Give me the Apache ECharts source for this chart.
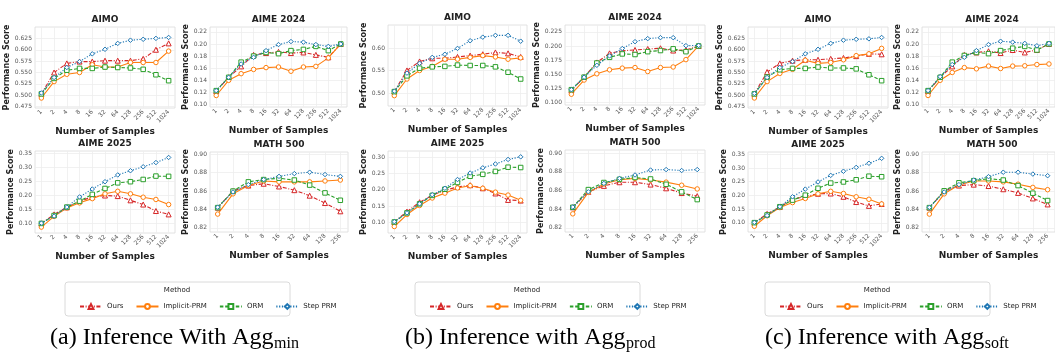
<!DOCTYPE html>
<html>
<head>
<meta charset="utf-8">
<script src="https://cdn.jsdelivr.net/npm/echarts@6/dist/echarts.min.js"></script>
<style>
html, body { margin: 0; padding: 0; background: #fff; }
#chart { width: 1055px; height: 354px; }
</style>
</head>
<body>
<div id="chart"></div>
<script>
var samples = ['1', '2', '4', '8', '16', '32', '64', '128', '256', '512', '1024'];
var samplesMath = ['1', '2', '4', '8', '16', '32', '64', '128', '256'];
var methods = ['Ours', 'Implicit-PRM', 'ORM', 'Step PRM'];

// y tick labels
var ticksAimo = [0.475, 0.5, 0.525, 0.55, 0.575, 0.6, 0.625];
var ticksAimoB = [0.5, 0.55, 0.6];
var ticks24 = [0.10, 0.12, 0.14, 0.16, 0.18, 0.20, 0.22];
var ticks24B = [0.100, 0.125, 0.150, 0.175, 0.200, 0.225];
var ticks25 = [0.10, 0.15, 0.20, 0.25, 0.30, 0.35];
var ticks25B = [0.10, 0.15, 0.20, 0.25, 0.30];
var ticksMath = [0.82, 0.84, 0.86, 0.88, 0.90];

// (a) Agg min
var aAimoOurs = [0.503, 0.550, 0.570, 0.574, 0.574, 0.576, 0.576, 0.576, 0.580, 0.600, 0.614];
var aAimoImpl = [0.494, 0.530, 0.546, 0.550, 0.567, 0.562, 0.562, 0.572, 0.572, 0.572, 0.597];
var aAimoOrm  = [0.503, 0.537, 0.555, 0.559, 0.559, 0.562, 0.561, 0.560, 0.557, 0.545, 0.532];
var aAimoStep = [0.505, 0.539, 0.561, 0.574, 0.591, 0.601, 0.614, 0.621, 0.623, 0.625, 0.627];
var a24Ours = [0.122, 0.145, 0.163, 0.182, 0.185, 0.187, 0.185, 0.186, 0.182, 0.178, 0.200];
var a24Impl = [0.115, 0.140, 0.151, 0.158, 0.161, 0.162, 0.155, 0.162, 0.163, 0.177, 0.200];
var a24Orm  = [0.123, 0.145, 0.170, 0.180, 0.186, 0.184, 0.189, 0.191, 0.196, 0.189, 0.200];
var a24Step = [0.123, 0.145, 0.167, 0.178, 0.189, 0.199, 0.204, 0.203, 0.199, 0.196, 0.200];
var a25Ours = [0.101, 0.133, 0.158, 0.180, 0.195, 0.200, 0.198, 0.183, 0.168, 0.145, 0.133];
var a25Impl = [0.088, 0.126, 0.156, 0.174, 0.189, 0.206, 0.215, 0.206, 0.194, 0.186, 0.168];
var a25Orm  = [0.101, 0.129, 0.159, 0.180, 0.204, 0.225, 0.245, 0.249, 0.257, 0.269, 0.268];
var a25Step = [0.102, 0.127, 0.159, 0.195, 0.223, 0.249, 0.273, 0.288, 0.302, 0.317, 0.335];
var aMathOurs = [0.842, 0.860, 0.866, 0.868, 0.865, 0.861, 0.855, 0.847, 0.838];
var aMathImpl = [0.835, 0.857, 0.866, 0.871, 0.870, 0.870, 0.870, 0.871, 0.872];
var aMathOrm  = [0.842, 0.860, 0.870, 0.8725, 0.874, 0.872, 0.8665, 0.858, 0.850];
var aMathStep = [0.8425, 0.859, 0.867, 0.8725, 0.876, 0.879, 0.8805, 0.878, 0.876];

// (b) Agg prod
var bAimoOurs = [0.503, 0.550, 0.570, 0.577, 0.577, 0.580, 0.583, 0.586, 0.590, 0.588, 0.580];
var bAimoImpl = [0.494, 0.531, 0.550, 0.559, 0.575, 0.575, 0.579, 0.583, 0.580, 0.575, 0.578];
var bAimoOrm  = [0.503, 0.538, 0.555, 0.558, 0.559, 0.562, 0.561, 0.561, 0.558, 0.546, 0.531];
var bAimoStep = [0.504, 0.544, 0.566, 0.579, 0.586, 0.599, 0.616, 0.624, 0.628, 0.628, 0.615];
var b24Ours = [0.122, 0.145, 0.171, 0.187, 0.1915, 0.193, 0.1947, 0.196, 0.192, 0.193, 0.200];
var b24Impl = [0.115, 0.140, 0.151, 0.158, 0.161, 0.162, 0.155, 0.162, 0.163, 0.176, 0.200];
var b24Orm  = [0.123, 0.145, 0.170, 0.180, 0.186, 0.185, 0.190, 0.192, 0.195, 0.190, 0.200];
var b24Step = [0.123, 0.145, 0.166, 0.1825, 0.1955, 0.2076, 0.213, 0.2147, 0.2147, 0.2006, 0.201];
var b25Ours = [0.101, 0.133, 0.162, 0.183, 0.199, 0.209, 0.2145, 0.205, 0.189, 0.169, 0.167];
var b25Impl = [0.087, 0.124, 0.152, 0.175, 0.190, 0.206, 0.213, 0.205, 0.193, 0.184, 0.168];
var b25Orm  = [0.101, 0.129, 0.157, 0.183, 0.202, 0.223, 0.242, 0.248, 0.257, 0.270, 0.269];
var b25Step = [0.102, 0.129, 0.157, 0.185, 0.205, 0.232, 0.252, 0.268, 0.280, 0.294, 0.302];
var bMathOurs = [0.842, 0.8586, 0.865, 0.8689, 0.8689, 0.8664, 0.8624, 0.8573, 0.854];
var bMathImpl = [0.835, 0.858, 0.867, 0.8715, 0.873, 0.8713, 0.869, 0.8657, 0.8617];
var bMathOrm  = [0.842, 0.861, 0.8686, 0.872, 0.874, 0.8724, 0.8667, 0.8586, 0.8503];
var bMathStep = [0.8423, 0.8586, 0.8676, 0.873, 0.8767, 0.882, 0.8825, 0.8815, 0.8825];

// (c) Agg soft
var cAimoOurs = [0.503, 0.551, 0.570, 0.576, 0.578, 0.578, 0.580, 0.582, 0.586, 0.591, 0.590];
var cAimoImpl = [0.494, 0.530, 0.548, 0.557, 0.577, 0.570, 0.572, 0.578, 0.587, 0.591, 0.603];
var cAimoOrm  = [0.503, 0.540, 0.556, 0.559, 0.559, 0.562, 0.560, 0.560, 0.558, 0.545, 0.532];
var cAimoStep = [0.504, 0.539, 0.561, 0.574, 0.591, 0.601, 0.614, 0.621, 0.623, 0.624, 0.627];
var c24Ours = [0.122, 0.145, 0.163, 0.182, 0.186, 0.188, 0.185, 0.190, 0.186, 0.190, 0.200];
var c24Impl = [0.115, 0.140, 0.153, 0.161, 0.159, 0.1635, 0.1595, 0.1635, 0.164, 0.166, 0.167];
var c24Orm  = [0.123, 0.145, 0.170, 0.181, 0.186, 0.184, 0.189, 0.193, 0.196, 0.190, 0.200];
var c24Step = [0.123, 0.146, 0.166, 0.178, 0.189, 0.199, 0.2045, 0.203, 0.201, 0.197, 0.201];
var c25Ours = [0.101, 0.133, 0.158, 0.186, 0.196, 0.206, 0.207, 0.195, 0.176, 0.162, 0.169];
var c25Impl = [0.088, 0.126, 0.156, 0.174, 0.189, 0.206, 0.215, 0.207, 0.195, 0.186, 0.169];
var c25Orm  = [0.101, 0.129, 0.159, 0.183, 0.201, 0.226, 0.245, 0.249, 0.257, 0.270, 0.268];
var c25Step = [0.102, 0.127, 0.159, 0.195, 0.223, 0.249, 0.273, 0.288, 0.302, 0.317, 0.335];
var cMathOurs = [0.842, 0.860, 0.866, 0.867, 0.8655, 0.862, 0.858, 0.852, 0.8455];
var cMathImpl = [0.835, 0.857, 0.8667, 0.871, 0.871, 0.870, 0.8675, 0.864, 0.8615];
var cMathOrm  = [0.842, 0.8603, 0.869, 0.8713, 0.8735, 0.872, 0.866, 0.8577, 0.8497];
var cMathStep = [0.8423, 0.859, 0.867, 0.872, 0.8757, 0.8805, 0.8805, 0.8785, 0.8767];

var colors = ['#d62728', '#ff7f0e', '#2ca02c', '#1f77b4'];
var symbols = ['triangle', 'circle', 'rect', 'diamond'];
var dashes = [[4, 1.6, 1, 1.6], 'solid', [3.5, 1.8], [1.2, 1.6]];

// subplot layout: x, y, w, h in pixels
var plots = [
  { title: 'AIMO', x: 35, y: 27, w: 140, h: 81, cats: samples, ticks: ticksAimo, dec: 3, min: 0.472, max: 0.65, gap: 23,
    data: [aAimoOurs, aAimoImpl, aAimoOrm, aAimoStep] },
  { title: 'AIME 2024', x: 210, y: 27, w: 137, h: 80, cats: samples, ticks: ticks24, dec: 2, min: 0.096, max: 0.228, gap: 19,
    data: [a24Ours, a24Impl, a24Orm, a24Step] },
  { title: 'AIME 2025', x: 35, y: 151, w: 140, h: 82, cats: samples, ticks: ticks25, dec: 2, min: 0.067, max: 0.358, gap: 19,
    data: [a25Ours, a25Impl, a25Orm, a25Step] },
  { title: 'MATH 500', x: 210, y: 152, w: 138, h: 80, cats: samplesMath, ticks: ticksMath, dec: 2, min: 0.8155, max: 0.9025, gap: 19,
    data: [aMathOurs, aMathImpl, aMathOrm, aMathStep] },

  { title: 'AIMO', x: 388, y: 25, w: 139, h: 81, cats: samples, ticks: ticksAimoB, dec: 2, min: 0.471, max: 0.651, gap: 19,
    data: [bAimoOurs, bAimoImpl, bAimoOrm, bAimoStep] },
  { title: 'AIME 2024', x: 565, y: 25, w: 140, h: 80, cats: samples, ticks: ticks24B, dec: 3, min: 0.096, max: 0.237, gap: 23,
    data: [b24Ours, b24Impl, b24Orm, b24Step] },
  { title: 'AIME 2025', x: 388, y: 151, w: 139, h: 82, cats: samples, ticks: ticks25B, dec: 2, min: 0.067, max: 0.32, gap: 19,
    data: [b25Ours, b25Impl, b25Orm, b25Step] },
  { title: 'MATH 500', x: 565, y: 150, w: 140, h: 82, cats: samplesMath, ticks: ticksMath, dec: 2, min: 0.8155, max: 0.9035, gap: 19,
    data: [bMathOurs, bMathImpl, bMathOrm, bMathStep] },

  { title: 'AIMO', x: 748, y: 27, w: 140, h: 81, cats: samples, ticks: ticksAimo, dec: 3, min: 0.472, max: 0.65, gap: 23,
    data: [cAimoOurs, cAimoImpl, cAimoOrm, cAimoStep] },
  { title: 'AIME 2024', x: 922, y: 27, w: 140, h: 80, cats: samples, ticks: ticks24, dec: 2, min: 0.096, max: 0.228, gap: 19,
    data: [c24Ours, c24Impl, c24Orm, c24Step] },
  { title: 'AIME 2025', x: 748, y: 152, w: 140, h: 80, cats: samples, ticks: ticks25, dec: 2, min: 0.067, max: 0.358, gap: 19,
    data: [c25Ours, c25Impl, c25Orm, c25Step] },
  { title: 'MATH 500', x: 922, y: 152, w: 140, h: 80, cats: samplesMath, ticks: ticksMath, dec: 2, min: 0.8155, max: 0.9025, gap: 19,
    data: [cMathOurs, cMathImpl, cMathOrm, cMathStep] }
];

var legendBoxes = [{ x: 65, y: 282 }, { x: 415, y: 282 }, { x: 765, y: 282 }];
var captions = [
  { x: 50, main: '(a) Inference With Agg', sub: 'min' },
  { x: 405, main: '(b) Inference with Agg', sub: 'prod' },
  { x: 765, main: '(c) Inference with Agg', sub: 'soft' }
];

var font = 'DejaVu Sans';
var grids = [], xAxes = [], yAxes = [], series = [], graphics = [], legends = [];

plots.forEach(function (p, i) {
  grids.push({ left: p.x, top: p.y, width: p.w, height: p.h, show: true,
    borderColor: '#dadada', borderWidth: 0.8 });
  xAxes.push({
    gridIndex: i, type: 'category', data: p.cats, boundaryGap: true,
    axisLine: { show: false }, axisTick: { show: false },
    axisLabel: { rotate: 45, fontSize: 6, color: '#555', margin: 3, interval: 0, fontFamily: font },
    splitLine: { show: true, alignWithLabel: true, lineStyle: { color: '#eeeeee', width: 0.8 } },
    name: 'Number of Samples', nameLocation: 'middle', nameGap: 19,
    nameTextStyle: { fontWeight: 'bold', fontSize: 9, color: '#222', fontFamily: font }
  });
  yAxes.push({
    gridIndex: i, type: 'value', min: p.min, max: p.max,
    axisLine: { show: false },
    axisTick: { show: false, customValues: p.ticks },
    axisLabel: { customValues: p.ticks, fontSize: 6, color: '#555', margin: 3, fontFamily: font,
      formatter: function (v) { return v.toFixed(p.dec); } },
    splitLine: { show: true, lineStyle: { color: '#eeeeee', width: 0.8 } },
    name: 'Performance Score', nameLocation: 'middle', nameGap: p.gap,
    nameTextStyle: { fontWeight: 'bold', fontSize: 8, color: '#222', fontFamily: font }
  });
  graphics.push({ type: 'text', x: p.x + p.w / 2, y: p.y - 7,
    style: { text: p.title, align: 'center', verticalAlign: 'middle', fontSize: 9,
      fontWeight: 'bold', fill: '#222', fontFamily: font } });
  p.data.forEach(function (vals, k) {
    series.push({
      type: 'line', name: methods[k], xAxisIndex: i, yAxisIndex: i, data: vals,
      symbol: symbols[k], symbolSize: k === 0 ? 5 : 4.5, color: colors[k],
      itemStyle: { color: '#fff', borderColor: colors[k], borderWidth: 1 },
      lineStyle: { color: colors[k], width: 1.1, type: dashes[k] },
      emphasis: { disabled: true }, animation: false
    });
  });
});

legendBoxes.forEach(function (b) {
  graphics.push({ type: 'rect', shape: { x: b.x, y: b.y, width: 225, height: 34, r: 3 },
    style: { fill: '#fff', stroke: '#d0d0d0', lineWidth: 0.8 } });
  graphics.push({ type: 'text', x: b.x + 112, y: b.y + 8,
    style: { text: 'Method', align: 'center', verticalAlign: 'middle', fontSize: 7, fill: '#222', fontFamily: font } });
  legends.push({ data: methods, left: b.x + 9, top: b.y + 16, itemWidth: 22, itemHeight: 6, itemGap: 12,
    textStyle: { fontSize: 7, color: '#222', fontFamily: font }, selectedMode: false });
});

var measure = document.createElement('canvas').getContext('2d');
captions.forEach(function (c) {
  measure.font = '24px "Liberation Serif"';
  var w = measure.measureText(c.main).width;
  graphics.push({ type: 'text', x: c.x, y: 338,
    style: { text: c.main, align: 'left', verticalAlign: 'middle', fontSize: 24, fill: '#000', fontFamily: 'Liberation Serif' } });
  graphics.push({ type: 'text', x: c.x + w + 0.5, y: 344,
    style: { text: c.sub, align: 'left', verticalAlign: 'middle', fontSize: 16, fill: '#000', fontFamily: 'Liberation Serif' } });
});

var chart = echarts.init(document.getElementById('chart'), null, { renderer: 'canvas' });
chart.setOption({
  backgroundColor: '#fff',
  animation: false,
  grid: grids,
  xAxis: xAxes,
  yAxis: yAxes,
  legend: legends,
  series: series,
  graphic: graphics
});
</script>
</body>
</html>
